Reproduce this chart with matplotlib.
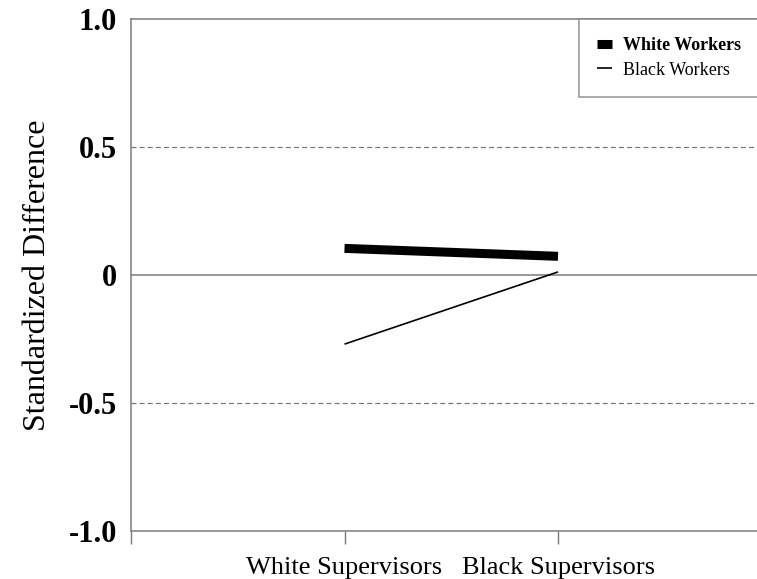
import matplotlib
matplotlib.use("Agg")
import matplotlib.pyplot as plt

# --- Data ---
supervisors = ["White Supervisors", "Black Supervisors"]
sup_pos = [1, 2]
white_workers = [0.104, 0.073]
black_workers = [-0.27, 0.012]
ytick_vals = [-1.0, -0.5, 0, 0.5, 1.0]
ytick_labels = ["-1.0", "-0.5", "0", "0.5", "1.0"]

plt.rcParams["font.family"] = ["Liberation Serif", "DejaVu Serif"]
grey = "#7a7a7a"

fig = plt.figure(figsize=(7.57, 5.79), dpi=100)
ax = fig.add_axes([131 / 757, 48 / 579, 640.5 / 757, 512 / 579])

# reference lines
ax.axhline(0, color=grey, lw=1.1, zorder=1)
for yv in (0.5, -0.5):
    ax.axhline(yv, color=grey, lw=0.9, ls=(0, (4, 2.5)), zorder=1)

ax.plot(sup_pos, white_workers, color="black", lw=6.5, solid_capstyle="butt",
        label="White Workers", zorder=3)
ax.plot(sup_pos, black_workers, color="black", lw=1.2, solid_capstyle="butt",
        label="Black Workers", zorder=3)

ax.set_xlim(0, 3)
ax.set_ylim(-1.0, 1.0)
ax.set_xticks([0] + sup_pos)
ax.set_xticklabels([""] + supervisors, fontsize=19)
ax.set_yticks(ytick_vals)
ax.set_yticklabels(ytick_labels, fontsize=22, fontweight="bold")
ax.tick_params(axis="y", length=0, pad=10)
ax.tick_params(axis="x", length=9, width=1, color=grey, pad=10)
for sp in ax.spines.values():
    sp.set_color(grey)
    sp.set_linewidth(1.1)

ax.set_ylabel("Standardized Difference", fontsize=23, labelpad=12)

# legend box runs off the right edge like the original
leg = ax.legend(loc="upper left",
                bbox_to_anchor=(579 / 757, 0, 200 / 757, 1 - 19 / 579),
                bbox_transform=fig.transFigure, mode="expand",
                fontsize=13, handlelength=0.85, handletextpad=0.6,
                borderpad=1.0, labelspacing=0.42, fancybox=False,
                borderaxespad=0)
leg.get_frame().set_edgecolor(grey)
leg.get_frame().set_linewidth(1.1)
leg.get_texts()[0].set_fontweight("bold")

fig.savefig("out.png", dpi=100)
